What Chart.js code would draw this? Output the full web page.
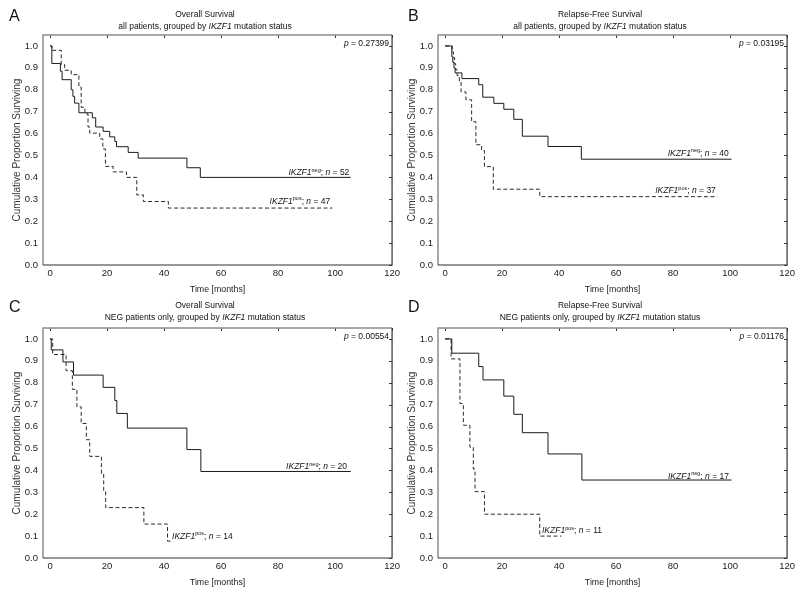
<!DOCTYPE html>
<html>
<head>
<meta charset="utf-8">
<script src="https://cdn.jsdelivr.net/npm/chart.js@4"></script>
<style>
  body { margin: 0; background: #fff; width: 798px; height: 593px; position: relative; overflow: hidden; }
  canvas { position: absolute; }
</style>
</head>
<body>
<canvas id="chartA" width="403" height="300" style="left:0;top:0"></canvas>
<canvas id="chartB" width="403" height="300" style="left:395px;top:0"></canvas>
<canvas id="chartC" width="403" height="300" style="left:0;top:293px"></canvas>
<canvas id="chartD" width="403" height="300" style="left:395px;top:293px"></canvas>
<script>
// Axis ticks
const xTicks = [0, 20, 40, 60, 80, 100, 120];
const yTicks = [0.0, 0.1, 0.2, 0.3, 0.4, 0.5, 0.6, 0.7, 0.8, 0.9, 1.0];

// A: overall survival, all patients
const aNegTime = [0, 0.6, 3.6, 4.2, 7.4, 8.0, 8.6, 10.1, 14.8, 16.0, 18.6, 20.9, 22.7, 23.3, 27.4, 30.9, 48.0, 52.7, 105.5];
const aNegSurv = [1.0, 0.92, 0.885, 0.846, 0.80, 0.77, 0.739, 0.695, 0.672, 0.63, 0.61, 0.585, 0.564, 0.54, 0.514, 0.488, 0.444, 0.40, 0.40];
const aPosTime = [0, 0.6, 3.9, 5.1, 7.4, 10.1, 10.9, 12.2, 13.3, 13.9, 17.4, 18.5, 19.4, 22.1, 26.8, 30.4, 32.7, 41.5, 99];
const aPosSurv = [1.0, 0.98, 0.915, 0.889, 0.869, 0.8125, 0.72, 0.69, 0.63, 0.602, 0.576, 0.53, 0.45, 0.425, 0.40, 0.32, 0.29, 0.26, 0.26];

// B: relapse-free survival, all patients
const bNegTime = [0, 2.35, 2.7, 3.1, 3.5, 5.9, 11.8, 13.2, 17.1, 20.6, 24.1, 27.1, 36.1, 47.8, 100.5];
const bNegSurv = [1.0, 0.951, 0.925, 0.90, 0.877, 0.851, 0.823, 0.766, 0.738, 0.711, 0.665, 0.588, 0.541, 0.483, 0.483];
const bPosTime = [0, 2.5, 2.9, 3.3, 3.7, 4.2, 5.0, 5.6, 7.3, 9.3, 10.8, 12.8, 13.8, 16.9, 33.2, 95.5];
const bPosSurv = [1.0, 0.973, 0.946, 0.919, 0.892, 0.865, 0.838, 0.79, 0.754, 0.654, 0.549, 0.523, 0.449, 0.346, 0.312, 0.312];

// C: overall survival, NEG patients
const cNegTime = [0, 0.4, 4.5, 8.2, 18.6, 22.7, 23.4, 27.1, 48.0, 52.9, 105.5];
const cNegSurv = [1.0, 0.95, 0.895, 0.835, 0.779, 0.719, 0.66, 0.593, 0.495, 0.395, 0.395];
const cPosTime = [0, 0.9, 5.6, 7.8, 9.4, 10.9, 12.7, 13.9, 18.0, 18.8, 19.5, 32.9, 41.2, 43.0];
const cPosSurv = [1.0, 0.929, 0.855, 0.77, 0.69, 0.614, 0.54, 0.464, 0.385, 0.308, 0.23, 0.155, 0.077, 0.077];

// D: relapse-free survival, NEG patients
const dNegTime = [0, 2.35, 11.8, 13.3, 20.6, 24.1, 27.1, 36.1, 48.0, 100.5];
const dNegSurv = [1.0, 0.935, 0.874, 0.813, 0.739, 0.656, 0.572, 0.475, 0.356, 0.356];
const dPosTime = [0, 2.1, 5.2, 6.4, 8.7, 9.9, 10.5, 13.8, 33.2, 40.8];
const dPosSurv = [1.0, 0.909, 0.705, 0.606, 0.506, 0.406, 0.303, 0.2, 0.1, 0.1];

const groupCounts = { A: [52, 47], B: [40, 37], C: [20, 14], D: [17, 11] };
const pValues = { A: '0.27399', B: '0.03195', C: '0.00554', D: '0.01176' };

const FONT = '"Liberation Sans", Arial, sans-serif';

const panels = [
    { id: 'chartA', letter: 'A', title: 'Overall Survival', sub: 'all patients, grouped by ',
      neg: [aNegTime, aNegSurv], pos: [aPosTime, aPosSurv],
      titleY: [17, 29], letterPos: [9, 21],
      negLabel: { x: 105, y: 0.424, align: 'right' }, posLabel: { x: 98.3, y: 0.294, align: 'right' } },
    { id: 'chartB', letter: 'B', title: 'Relapse-Free Survival', sub: 'all patients, grouped by ',
      neg: [bNegTime, bNegSurv], pos: [bPosTime, bPosSurv],
      titleY: [17, 29], letterPos: [13, 21],
      negLabel: { x: 99.5, y: 0.512, align: 'right' }, posLabel: { x: 95, y: 0.342, align: 'right' } },
    { id: 'chartC', letter: 'C', title: 'Overall Survival', sub: 'NEG patients only, grouped by ',
      neg: [cNegTime, cNegSurv], pos: [cPosTime, cPosSurv],
      titleY: [14.5, 27], letterPos: [9, 18.5],
      negLabel: { x: 104.2, y: 0.418, align: 'right' }, posLabel: { x: 42.8, y: 0.102, align: 'left' } },
    { id: 'chartD', letter: 'D', title: 'Relapse-Free Survival', sub: 'NEG patients only, grouped by ',
      neg: [dNegTime, dNegSurv], pos: [dPosTime, dPosSurv],
      titleY: [14.5, 27], letterPos: [13, 18.5],
      negLabel: { x: 99.6, y: 0.376, align: 'right' }, posLabel: { x: 34, y: 0.126, align: 'left' } }
];

function toPoints(times, surv) {
    return times.map((t, i) => ({ x: t, y: surv[i] }));
}

// draws a line made of parts with different styles (italic, superscript)
function drawRich(ctx, parts, x, baseline, align, size) {
    const fontFor = p => (p.italic ? 'italic ' : '') + (p.sup ? size * 0.65 : size) + 'px ' + FONT;
    let total = 0;
    parts.forEach(p => { ctx.font = fontFor(p); total += ctx.measureText(p.text).width; });
    let cx = align === 'right' ? x - total : (align === 'center' ? x - total / 2 : x);
    ctx.textAlign = 'left';
    ctx.textBaseline = 'alphabetic';
    parts.forEach(p => {
        ctx.font = fontFor(p);
        ctx.fillText(p.text, cx, p.sup ? baseline - 3.5 : baseline);
        cx += ctx.measureText(p.text).width;
    });
}

function groupLabel(kind, n) {
    return [
        { text: 'IKZF1', italic: true },
        { text: kind, sup: true },
        { text: '; ' },
        { text: 'n', italic: true },
        { text: ' = ' + n }
    ];
}

function makeDecor(panel) {
    return {
        id: 'decor' + panel.letter,
        afterDraw(chart) {
            const { ctx, chartArea: a, scales: { x, y } } = chart;
            ctx.save();
            ctx.fillStyle = '#111';

            // inner ticks on top and right borders
            ctx.strokeStyle = '#333';
            ctx.lineWidth = 1;
            ctx.beginPath();
            xTicks.forEach(v => {
                const px = Math.round(x.getPixelForValue(v)) + 0.5;
                ctx.moveTo(px, a.top); ctx.lineTo(px, a.top + 3);
            });
            yTicks.forEach(v => {
                const py = Math.round(y.getPixelForValue(v)) + 0.5;
                ctx.moveTo(a.right - 3, py); ctx.lineTo(a.right, py);
            });
            ctx.stroke();

            // frame: light top/left, dark right/bottom
            ctx.strokeStyle = '#8c8c8c';
            ctx.lineWidth = 1.5;
            ctx.beginPath();
            ctx.moveTo(a.left, a.bottom); ctx.lineTo(a.left, a.top); ctx.lineTo(a.right, a.top);
            ctx.stroke();
            ctx.strokeStyle = '#333';
            ctx.lineWidth = 1.2;
            ctx.beginPath();
            ctx.moveTo(a.right, a.top); ctx.lineTo(a.right, a.bottom); ctx.lineTo(a.left, a.bottom);
            ctx.stroke();

            // panel letter
            ctx.font = '16px ' + FONT;
            ctx.textAlign = 'left';
            ctx.textBaseline = 'alphabetic';
            ctx.fillText(panel.letter, panel.letterPos[0], panel.letterPos[1]);

            // titles
            const cx = 205;
            ctx.font = '8.5px ' + FONT;
            ctx.textAlign = 'center';
            ctx.fillText(panel.title, cx, panel.titleY[0]);
            drawRich(ctx, [
                { text: panel.sub },
                { text: 'IKZF1', italic: true },
                { text: ' mutation status' }
            ], cx, panel.titleY[1], 'center', 8.5);

            // p value
            drawRich(ctx, [
                { text: 'p', italic: true },
                { text: ' = ' + pValues[panel.letter] }
            ], a.right - 3, a.top + 11, 'right', 8.5);

            // group labels
            const counts = groupCounts[panel.letter];
            const nl = panel.negLabel, pl = panel.posLabel;
            drawRich(ctx, groupLabel('neg', counts[0]), x.getPixelForValue(nl.x), y.getPixelForValue(nl.y) + 3, nl.align, 8.5);
            drawRich(ctx, groupLabel('pos', counts[1]), x.getPixelForValue(pl.x), y.getPixelForValue(pl.y) + 3, pl.align, 8.5);
            ctx.restore();
        }
    };
}

function buildChart(panel) {
    const ctx = document.getElementById(panel.id).getContext('2d');
    return new Chart(ctx, {
        type: 'line',
        data: {
            datasets: [{
                label: 'IKZF1 neg',
                data: toPoints(panel.neg[0], panel.neg[1]),
                borderColor: '#1a1a1a',
                borderWidth: 1,
                stepped: 'before',
                pointRadius: 0,
                fill: false
            }, {
                label: 'IKZF1 pos',
                data: toPoints(panel.pos[0], panel.pos[1]),
                borderColor: '#2a2a2a',
                borderWidth: 1,
                borderDash: [4, 2.5],
                stepped: 'before',
                pointRadius: 0,
                fill: false
            }]
        },
        options: {
            responsive: false,
            animation: false,
            layout: { padding: { top: 35, right: 10, left: 0, bottom: 0 } },
            plugins: {
                legend: { display: false },
                tooltip: { enabled: false },
                title: { display: false }
            },
            scales: {
                x: {
                    type: 'linear',
                    min: -2.5,
                    max: 120,
                    grid: { display: false, drawTicks: false },
                    border: { display: false },
                    afterBuildTicks: s => { s.ticks = xTicks.map(v => ({ value: v })); },
                    afterFit: s => { s.height = 35; },
                    ticks: { padding: 3, color: '#222', maxRotation: 0, autoSkip: false,
                             font: { family: FONT, size: 9.5 }, callback: v => String(v) },
                    title: { display: true, text: 'Time [months]', color: '#222',
                             font: { family: FONT, size: 8.8 }, padding: { top: 0, bottom: 5 } }
                },
                y: {
                    min: 0,
                    max: 1.05,
                    grid: { display: false, drawTicks: false },
                    border: { display: false },
                    afterBuildTicks: s => { s.ticks = yTicks.map(v => ({ value: v })); },
                    afterFit: s => { s.width = 43; },
                    ticks: { padding: 5, color: '#222', autoSkip: false,
                             font: { family: FONT, size: 9.5 }, callback: v => Number(v).toFixed(1) },
                    title: { display: true, text: 'Cumulative Proportion Surviving', color: '#333',
                             font: { family: FONT, size: 10 }, padding: { top: 11, bottom: 0 } }
                }
            }
        },
        plugins: [makeDecor(panel)]
    });
}

panels.forEach(buildChart);
</script>
</body>
</html>
